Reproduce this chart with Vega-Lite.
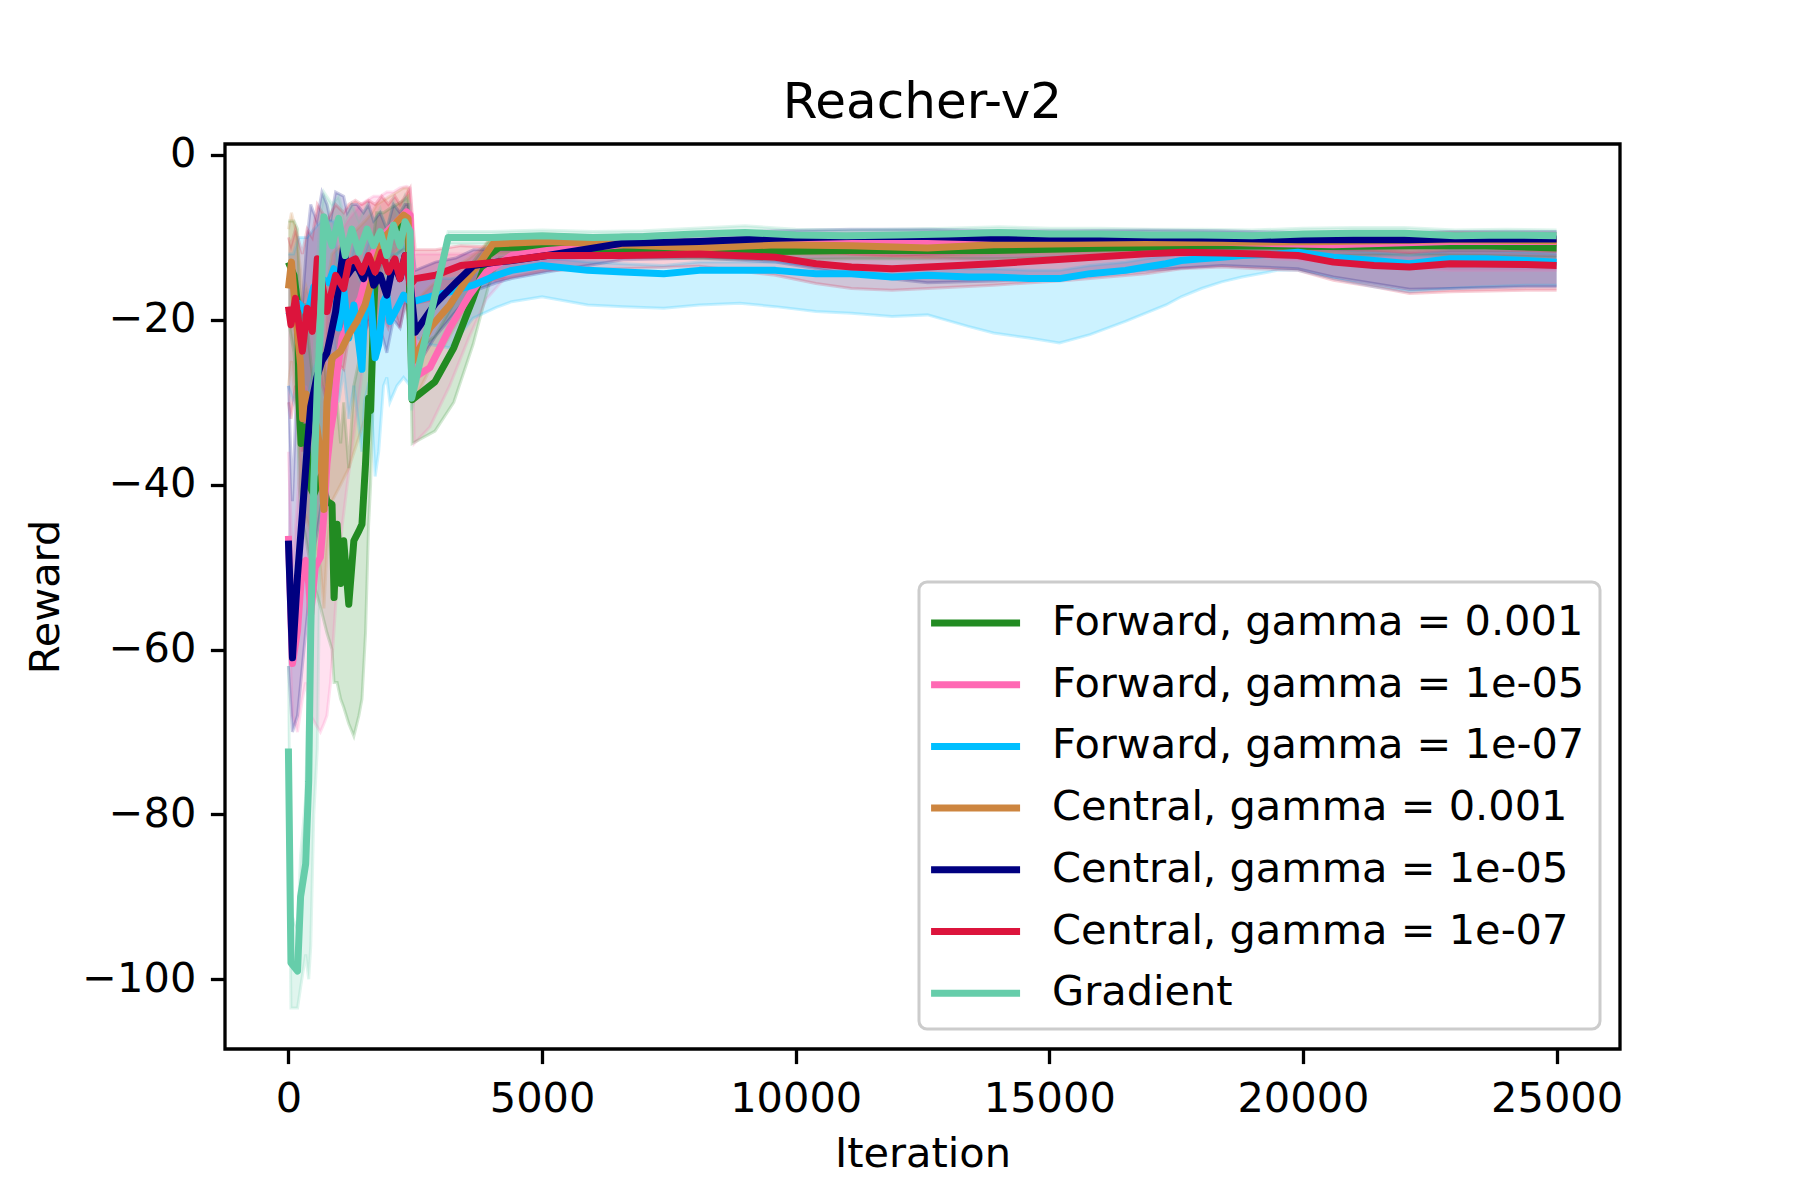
{
  "$schema": "https://vega.github.io/schema/vega-lite/v6.json",
  "autosize": {"type": "none"},
  "padding": {"left": 225, "top": 144, "right": 180, "bottom": 151},
  "width": 1395,
  "height": 905,
  "background": "white",
  "title": {"text": "Reacher-v2", "fontSize": 50, "font": "DejaVu Sans", "fontWeight": "normal", "color": "black", "offset": 6, "anchor": "middle"},
  "data": {
    "values": [
      {"s": "Forward, gamma = 0.001", "x": 0, "y": -13, "lo": -20, "hi": -8},
      {"s": "Forward, gamma = 0.001", "x": 110, "y": -14.6, "lo": -24, "hi": -8},
      {"s": "Forward, gamma = 0.001", "x": 180, "y": -18, "lo": -30, "hi": -9},
      {"s": "Forward, gamma = 0.001", "x": 210, "y": -30, "lo": -40, "hi": -15},
      {"s": "Forward, gamma = 0.001", "x": 250, "y": -35, "lo": -44, "hi": -20},
      {"s": "Forward, gamma = 0.001", "x": 330, "y": -33, "lo": -46, "hi": -18},
      {"s": "Forward, gamma = 0.001", "x": 440, "y": -40.4, "lo": -50, "hi": -25},
      {"s": "Forward, gamma = 0.001", "x": 500, "y": -41.2, "lo": -52, "hi": -28},
      {"s": "Forward, gamma = 0.001", "x": 640, "y": -39, "lo": -55, "hi": -22},
      {"s": "Forward, gamma = 0.001", "x": 760, "y": -42, "lo": -58, "hi": -28},
      {"s": "Forward, gamma = 0.001", "x": 860, "y": -42.4, "lo": -60, "hi": -25},
      {"s": "Forward, gamma = 0.001", "x": 900, "y": -53.7, "lo": -64, "hi": -32},
      {"s": "Forward, gamma = 0.001", "x": 960, "y": -44.8, "lo": -64, "hi": -30},
      {"s": "Forward, gamma = 0.001", "x": 1030, "y": -52, "lo": -66, "hi": -35},
      {"s": "Forward, gamma = 0.001", "x": 1090, "y": -46.8, "lo": -67, "hi": -30},
      {"s": "Forward, gamma = 0.001", "x": 1190, "y": -54.5, "lo": -69, "hi": -38},
      {"s": "Forward, gamma = 0.001", "x": 1290, "y": -46.8, "lo": -70.5, "hi": -28},
      {"s": "Forward, gamma = 0.001", "x": 1390, "y": -45.6, "lo": -68, "hi": -25},
      {"s": "Forward, gamma = 0.001", "x": 1450, "y": -44.8, "lo": -66, "hi": -22},
      {"s": "Forward, gamma = 0.001", "x": 1520, "y": -37.5, "lo": -58, "hi": -18},
      {"s": "Forward, gamma = 0.001", "x": 1580, "y": -29.5, "lo": -45, "hi": -14},
      {"s": "Forward, gamma = 0.001", "x": 1620, "y": -31, "lo": -40, "hi": -15},
      {"s": "Forward, gamma = 0.001", "x": 1680, "y": -19, "lo": -28, "hi": -10},
      {"s": "Forward, gamma = 0.001", "x": 1740, "y": -11, "lo": -16, "hi": -7},
      {"s": "Forward, gamma = 0.001", "x": 1875, "y": -9.7, "lo": -13, "hi": -7},
      {"s": "Forward, gamma = 0.001", "x": 2000, "y": -9.3, "lo": -12.5, "hi": -6.5},
      {"s": "Forward, gamma = 0.001", "x": 2140, "y": -8.9, "lo": -12, "hi": -6},
      {"s": "Forward, gamma = 0.001", "x": 2270, "y": -8.5, "lo": -11.5, "hi": -5.5},
      {"s": "Forward, gamma = 0.001", "x": 2360, "y": -8.7, "lo": -11.5, "hi": -5},
      {"s": "Forward, gamma = 0.001", "x": 2440, "y": -29.7, "lo": -35, "hi": -24},
      {"s": "Forward, gamma = 0.001", "x": 2890, "y": -27.5, "lo": -33.5, "hi": -22},
      {"s": "Forward, gamma = 0.001", "x": 3260, "y": -23.4, "lo": -30, "hi": -18},
      {"s": "Forward, gamma = 0.001", "x": 3640, "y": -17.4, "lo": -23, "hi": -13},
      {"s": "Forward, gamma = 0.001", "x": 3940, "y": -12.2, "lo": -16, "hi": -10.5},
      {"s": "Forward, gamma = 0.001", "x": 4160, "y": -11.2, "lo": -12.5, "hi": -10.2},
      {"s": "Forward, gamma = 0.001", "x": 5100, "y": -11.2, "lo": -12.2, "hi": -10.3},
      {"s": "Forward, gamma = 0.001", "x": 6600, "y": -11.4, "lo": -12.4, "hi": -10.5},
      {"s": "Forward, gamma = 0.001", "x": 8100, "y": -11.6, "lo": -12.6, "hi": -10.7},
      {"s": "Forward, gamma = 0.001", "x": 9600, "y": -11.7, "lo": -12.7, "hi": -10.8},
      {"s": "Forward, gamma = 0.001", "x": 11100, "y": -11.6, "lo": -12.6, "hi": -10.7},
      {"s": "Forward, gamma = 0.001", "x": 12600, "y": -11.6, "lo": -12.6, "hi": -10.7},
      {"s": "Forward, gamma = 0.001", "x": 13900, "y": -11.6, "lo": -12.6, "hi": -10.7},
      {"s": "Forward, gamma = 0.001", "x": 16100, "y": -11.3, "lo": -12.3, "hi": -10.4},
      {"s": "Forward, gamma = 0.001", "x": 18400, "y": -11, "lo": -12, "hi": -10.1},
      {"s": "Forward, gamma = 0.001", "x": 20600, "y": -11.1, "lo": -12.2, "hi": -10.2},
      {"s": "Forward, gamma = 0.001", "x": 22100, "y": -11, "lo": -12.1, "hi": -10.1},
      {"s": "Forward, gamma = 0.001", "x": 23600, "y": -11, "lo": -12.2, "hi": -10.1},
      {"s": "Forward, gamma = 0.001", "x": 25000, "y": -11.3, "lo": -12.4, "hi": -10.3},

      {"s": "Forward, gamma = 1e-05", "x": 0, "y": -46.2, "lo": -55, "hi": -36},
      {"s": "Forward, gamma = 1e-05", "x": 80, "y": -61.7, "lo": -68, "hi": -50},
      {"s": "Forward, gamma = 1e-05", "x": 180, "y": -57.7, "lo": -70, "hi": -42},
      {"s": "Forward, gamma = 1e-05", "x": 275, "y": -49.6, "lo": -66, "hi": -32},
      {"s": "Forward, gamma = 1e-05", "x": 340, "y": -49.2, "lo": -64, "hi": -28},
      {"s": "Forward, gamma = 1e-05", "x": 400, "y": -52, "lo": -66, "hi": -30},
      {"s": "Forward, gamma = 1e-05", "x": 440, "y": -55.7, "lo": -68, "hi": -35},
      {"s": "Forward, gamma = 1e-05", "x": 530, "y": -50, "lo": -69, "hi": -30},
      {"s": "Forward, gamma = 1e-05", "x": 630, "y": -48.8, "lo": -70, "hi": -28},
      {"s": "Forward, gamma = 1e-05", "x": 700, "y": -43.6, "lo": -69, "hi": -25},
      {"s": "Forward, gamma = 1e-05", "x": 760, "y": -37.5, "lo": -68, "hi": -20},
      {"s": "Forward, gamma = 1e-05", "x": 830, "y": -33.5, "lo": -64, "hi": -15},
      {"s": "Forward, gamma = 1e-05", "x": 895, "y": -31.1, "lo": -58, "hi": -12},
      {"s": "Forward, gamma = 1e-05", "x": 960, "y": -26.3, "lo": -52, "hi": -10},
      {"s": "Forward, gamma = 1e-05", "x": 1060, "y": -22.2, "lo": -45, "hi": -9},
      {"s": "Forward, gamma = 1e-05", "x": 1160, "y": -20.6, "lo": -40, "hi": -8},
      {"s": "Forward, gamma = 1e-05", "x": 1290, "y": -19, "lo": -34, "hi": -7},
      {"s": "Forward, gamma = 1e-05", "x": 1420, "y": -17.4, "lo": -28, "hi": -6},
      {"s": "Forward, gamma = 1e-05", "x": 1550, "y": -14.2, "lo": -22, "hi": -5.5},
      {"s": "Forward, gamma = 1e-05", "x": 1680, "y": -11.8, "lo": -17, "hi": -5},
      {"s": "Forward, gamma = 1e-05", "x": 1810, "y": -10.1, "lo": -14, "hi": -5},
      {"s": "Forward, gamma = 1e-05", "x": 1940, "y": -9.3, "lo": -13, "hi": -4.5},
      {"s": "Forward, gamma = 1e-05", "x": 2070, "y": -8.5, "lo": -12, "hi": -4.5},
      {"s": "Forward, gamma = 1e-05", "x": 2200, "y": -7.7, "lo": -11, "hi": -4},
      {"s": "Forward, gamma = 1e-05", "x": 2330, "y": -6.9, "lo": -10, "hi": -3.8},
      {"s": "Forward, gamma = 1e-05", "x": 2400, "y": -7.3, "lo": -10, "hi": -4},
      {"s": "Forward, gamma = 1e-05", "x": 2480, "y": -27, "lo": -35, "hi": -12},
      {"s": "Forward, gamma = 1e-05", "x": 2790, "y": -25.8, "lo": -33, "hi": -12},
      {"s": "Forward, gamma = 1e-05", "x": 3180, "y": -21, "lo": -28, "hi": -12},
      {"s": "Forward, gamma = 1e-05", "x": 3570, "y": -17, "lo": -22, "hi": -12},
      {"s": "Forward, gamma = 1e-05", "x": 3900, "y": -14.2, "lo": -17.5, "hi": -11.5},
      {"s": "Forward, gamma = 1e-05", "x": 4400, "y": -12.2, "lo": -14, "hi": -11},
      {"s": "Forward, gamma = 1e-05", "x": 5100, "y": -11.6, "lo": -13, "hi": -10.5},
      {"s": "Forward, gamma = 1e-05", "x": 6600, "y": -10.9, "lo": -12.2, "hi": -9.8},
      {"s": "Forward, gamma = 1e-05", "x": 8100, "y": -10.7, "lo": -12, "hi": -9.6},
      {"s": "Forward, gamma = 1e-05", "x": 9600, "y": -10.5, "lo": -11.8, "hi": -9.5},
      {"s": "Forward, gamma = 1e-05", "x": 11100, "y": -10.5, "lo": -12, "hi": -9.5},
      {"s": "Forward, gamma = 1e-05", "x": 12600, "y": -10.5, "lo": -12.5, "hi": -9.5},
      {"s": "Forward, gamma = 1e-05", "x": 13900, "y": -10.5, "lo": -13, "hi": -9.5},
      {"s": "Forward, gamma = 1e-05", "x": 16100, "y": -10.4, "lo": -12.5, "hi": -9.4},
      {"s": "Forward, gamma = 1e-05", "x": 18400, "y": -10.6, "lo": -12.2, "hi": -9.6},
      {"s": "Forward, gamma = 1e-05", "x": 20600, "y": -10.9, "lo": -13, "hi": -9.8},
      {"s": "Forward, gamma = 1e-05", "x": 22900, "y": -10.5, "lo": -14, "hi": -9.5},
      {"s": "Forward, gamma = 1e-05", "x": 25000, "y": -10.5, "lo": -14, "hi": -9.5},

      {"s": "Forward, gamma = 1e-07", "x": 0, "y": -19, "lo": -28, "hi": -12},
      {"s": "Forward, gamma = 1e-07", "x": 100, "y": -20, "lo": -30, "hi": -12},
      {"s": "Forward, gamma = 1e-07", "x": 200, "y": -18, "lo": -28, "hi": -10},
      {"s": "Forward, gamma = 1e-07", "x": 300, "y": -18.6, "lo": -30, "hi": -10},
      {"s": "Forward, gamma = 1e-07", "x": 370, "y": -19.4, "lo": -30, "hi": -10},
      {"s": "Forward, gamma = 1e-07", "x": 500, "y": -16, "lo": -26, "hi": -9},
      {"s": "Forward, gamma = 1e-07", "x": 650, "y": -15, "lo": -24, "hi": -8},
      {"s": "Forward, gamma = 1e-07", "x": 800, "y": -15.5, "lo": -25, "hi": -8},
      {"s": "Forward, gamma = 1e-07", "x": 895, "y": -13.8, "lo": -22, "hi": -8},
      {"s": "Forward, gamma = 1e-07", "x": 990, "y": -21, "lo": -30, "hi": -14},
      {"s": "Forward, gamma = 1e-07", "x": 1090, "y": -16.2, "lo": -26, "hi": -10},
      {"s": "Forward, gamma = 1e-07", "x": 1190, "y": -22.2, "lo": -32, "hi": -14},
      {"s": "Forward, gamma = 1e-07", "x": 1290, "y": -18.2, "lo": -28, "hi": -11},
      {"s": "Forward, gamma = 1e-07", "x": 1350, "y": -21, "lo": -31, "hi": -12},
      {"s": "Forward, gamma = 1e-07", "x": 1450, "y": -26, "lo": -36, "hi": -16},
      {"s": "Forward, gamma = 1e-07", "x": 1500, "y": -19, "lo": -30, "hi": -12},
      {"s": "Forward, gamma = 1e-07", "x": 1610, "y": -16.2, "lo": -27, "hi": -10},
      {"s": "Forward, gamma = 1e-07", "x": 1710, "y": -24.6, "lo": -39, "hi": -14},
      {"s": "Forward, gamma = 1e-07", "x": 1780, "y": -23, "lo": -36, "hi": -14},
      {"s": "Forward, gamma = 1e-07", "x": 1875, "y": -17.8, "lo": -28, "hi": -11},
      {"s": "Forward, gamma = 1e-07", "x": 1940, "y": -17, "lo": -27, "hi": -11},
      {"s": "Forward, gamma = 1e-07", "x": 2000, "y": -20.2, "lo": -30, "hi": -12},
      {"s": "Forward, gamma = 1e-07", "x": 2140, "y": -18.6, "lo": -28, "hi": -12},
      {"s": "Forward, gamma = 1e-07", "x": 2270, "y": -17, "lo": -27, "hi": -11},
      {"s": "Forward, gamma = 1e-07", "x": 2400, "y": -17.8, "lo": -28, "hi": -12},
      {"s": "Forward, gamma = 1e-07", "x": 2460, "y": -17.8, "lo": -22, "hi": -15},
      {"s": "Forward, gamma = 1e-07", "x": 2790, "y": -17.2, "lo": -23, "hi": -15},
      {"s": "Forward, gamma = 1e-07", "x": 3180, "y": -16.6, "lo": -23.4, "hi": -15},
      {"s": "Forward, gamma = 1e-07", "x": 3640, "y": -15.8, "lo": -19.8, "hi": -14.5},
      {"s": "Forward, gamma = 1e-07", "x": 4100, "y": -14.6, "lo": -18.5, "hi": -13.5},
      {"s": "Forward, gamma = 1e-07", "x": 4400, "y": -14, "lo": -17.8, "hi": -13},
      {"s": "Forward, gamma = 1e-07", "x": 5000, "y": -13.4, "lo": -17.2, "hi": -12.4},
      {"s": "Forward, gamma = 1e-07", "x": 5900, "y": -14, "lo": -18.2, "hi": -13},
      {"s": "Forward, gamma = 1e-07", "x": 6600, "y": -14.2, "lo": -18.4, "hi": -13.2},
      {"s": "Forward, gamma = 1e-07", "x": 7400, "y": -14.4, "lo": -18.6, "hi": -13.4},
      {"s": "Forward, gamma = 1e-07", "x": 8100, "y": -14, "lo": -18.2, "hi": -13},
      {"s": "Forward, gamma = 1e-07", "x": 8900, "y": -14, "lo": -18, "hi": -13},
      {"s": "Forward, gamma = 1e-07", "x": 9600, "y": -14, "lo": -18.4, "hi": -13},
      {"s": "Forward, gamma = 1e-07", "x": 10400, "y": -14.4, "lo": -19, "hi": -13.4},
      {"s": "Forward, gamma = 1e-07", "x": 11100, "y": -14.4, "lo": -19.2, "hi": -13.4},
      {"s": "Forward, gamma = 1e-07", "x": 11900, "y": -14.8, "lo": -19.6, "hi": -13.8},
      {"s": "Forward, gamma = 1e-07", "x": 12600, "y": -14.6, "lo": -19.4, "hi": -13.6},
      {"s": "Forward, gamma = 1e-07", "x": 13400, "y": -14.8, "lo": -20.8, "hi": -13.8},
      {"s": "Forward, gamma = 1e-07", "x": 13900, "y": -14.8, "lo": -21.6, "hi": -13.8},
      {"s": "Forward, gamma = 1e-07", "x": 14600, "y": -15, "lo": -22.2, "hi": -14},
      {"s": "Forward, gamma = 1e-07", "x": 15200, "y": -15, "lo": -22.8, "hi": -14},
      {"s": "Forward, gamma = 1e-07", "x": 15800, "y": -14.4, "lo": -21.8, "hi": -13.4},
      {"s": "Forward, gamma = 1e-07", "x": 16500, "y": -14, "lo": -20.2, "hi": -13},
      {"s": "Forward, gamma = 1e-07", "x": 16900, "y": -13.6, "lo": -19.2, "hi": -12.6},
      {"s": "Forward, gamma = 1e-07", "x": 17300, "y": -13.2, "lo": -18.2, "hi": -12.2},
      {"s": "Forward, gamma = 1e-07", "x": 17600, "y": -12.8, "lo": -17.2, "hi": -11.8},
      {"s": "Forward, gamma = 1e-07", "x": 18000, "y": -12.6, "lo": -16.2, "hi": -11.6},
      {"s": "Forward, gamma = 1e-07", "x": 18400, "y": -12.4, "lo": -15.4, "hi": -11.4},
      {"s": "Forward, gamma = 1e-07", "x": 18800, "y": -12.2, "lo": -14.8, "hi": -11.2},
      {"s": "Forward, gamma = 1e-07", "x": 19500, "y": -12, "lo": -14, "hi": -11},
      {"s": "Forward, gamma = 1e-07", "x": 19900, "y": -11.8, "lo": -14, "hi": -10.8},
      {"s": "Forward, gamma = 1e-07", "x": 20600, "y": -12.4, "lo": -15, "hi": -11.4},
      {"s": "Forward, gamma = 1e-07", "x": 21400, "y": -12.8, "lo": -16, "hi": -11.8},
      {"s": "Forward, gamma = 1e-07", "x": 22100, "y": -13.2, "lo": -16.6, "hi": -12.2},
      {"s": "Forward, gamma = 1e-07", "x": 22900, "y": -12.6, "lo": -16.2, "hi": -11.6},
      {"s": "Forward, gamma = 1e-07", "x": 23600, "y": -12.6, "lo": -16, "hi": -11.6},
      {"s": "Forward, gamma = 1e-07", "x": 24400, "y": -12.8, "lo": -15.8, "hi": -11.8},
      {"s": "Forward, gamma = 1e-07", "x": 25000, "y": -13, "lo": -15.8, "hi": -12},

      {"s": "Central, gamma = 0.001", "x": 0, "y": -16.2, "lo": -28, "hi": -9},
      {"s": "Central, gamma = 0.001", "x": 60, "y": -13, "lo": -25, "hi": -7},
      {"s": "Central, gamma = 0.001", "x": 140, "y": -19, "lo": -30, "hi": -9},
      {"s": "Central, gamma = 0.001", "x": 240, "y": -25.4, "lo": -38, "hi": -14},
      {"s": "Central, gamma = 0.001", "x": 280, "y": -32, "lo": -45, "hi": -18},
      {"s": "Central, gamma = 0.001", "x": 350, "y": -29, "lo": -44, "hi": -16},
      {"s": "Central, gamma = 0.001", "x": 450, "y": -31, "lo": -46, "hi": -18},
      {"s": "Central, gamma = 0.001", "x": 560, "y": -33, "lo": -48, "hi": -19},
      {"s": "Central, gamma = 0.001", "x": 630, "y": -36, "lo": -50, "hi": -22},
      {"s": "Central, gamma = 0.001", "x": 700, "y": -43, "lo": -55, "hi": -28},
      {"s": "Central, gamma = 0.001", "x": 760, "y": -30, "lo": -48, "hi": -16},
      {"s": "Central, gamma = 0.001", "x": 860, "y": -24.6, "lo": -42, "hi": -12},
      {"s": "Central, gamma = 0.001", "x": 1030, "y": -23.8, "lo": -40, "hi": -11},
      {"s": "Central, gamma = 0.001", "x": 1190, "y": -21.8, "lo": -38, "hi": -10},
      {"s": "Central, gamma = 0.001", "x": 1350, "y": -20.2, "lo": -35, "hi": -9},
      {"s": "Central, gamma = 0.001", "x": 1510, "y": -18.2, "lo": -32, "hi": -8},
      {"s": "Central, gamma = 0.001", "x": 1650, "y": -15, "lo": -26, "hi": -7},
      {"s": "Central, gamma = 0.001", "x": 1740, "y": -12.6, "lo": -20, "hi": -6},
      {"s": "Central, gamma = 0.001", "x": 1875, "y": -10.1, "lo": -15, "hi": -5.5},
      {"s": "Central, gamma = 0.001", "x": 2000, "y": -9.3, "lo": -13, "hi": -5},
      {"s": "Central, gamma = 0.001", "x": 2140, "y": -8.1, "lo": -11.5, "hi": -4.5},
      {"s": "Central, gamma = 0.001", "x": 2270, "y": -7.3, "lo": -10.5, "hi": -4},
      {"s": "Central, gamma = 0.001", "x": 2360, "y": -7.7, "lo": -10.5, "hi": -4},
      {"s": "Central, gamma = 0.001", "x": 2460, "y": -25, "lo": -30, "hi": -18},
      {"s": "Central, gamma = 0.001", "x": 2790, "y": -21, "lo": -26, "hi": -16},
      {"s": "Central, gamma = 0.001", "x": 3180, "y": -18.2, "lo": -22, "hi": -14},
      {"s": "Central, gamma = 0.001", "x": 3570, "y": -14.6, "lo": -18, "hi": -12.5},
      {"s": "Central, gamma = 0.001", "x": 3830, "y": -12.6, "lo": -15, "hi": -11.2},
      {"s": "Central, gamma = 0.001", "x": 4030, "y": -10.8, "lo": -12, "hi": -9.8},
      {"s": "Central, gamma = 0.001", "x": 5100, "y": -10.5, "lo": -11.7, "hi": -9.6},
      {"s": "Central, gamma = 0.001", "x": 6600, "y": -10.9, "lo": -12, "hi": -10},
      {"s": "Central, gamma = 0.001", "x": 8100, "y": -11.3, "lo": -12.4, "hi": -10.3},
      {"s": "Central, gamma = 0.001", "x": 9600, "y": -10.9, "lo": -12, "hi": -10},
      {"s": "Central, gamma = 0.001", "x": 11100, "y": -11, "lo": -12.1, "hi": -10},
      {"s": "Central, gamma = 0.001", "x": 12600, "y": -11.3, "lo": -12.4, "hi": -10.3},
      {"s": "Central, gamma = 0.001", "x": 13900, "y": -10.9, "lo": -12, "hi": -10},
      {"s": "Central, gamma = 0.001", "x": 16100, "y": -10.7, "lo": -11.8, "hi": -9.8},
      {"s": "Central, gamma = 0.001", "x": 18400, "y": -10.6, "lo": -11.8, "hi": -9.7},
      {"s": "Central, gamma = 0.001", "x": 20600, "y": -10.5, "lo": -11.7, "hi": -9.6},
      {"s": "Central, gamma = 0.001", "x": 22900, "y": -10.3, "lo": -11.5, "hi": -9.4},
      {"s": "Central, gamma = 0.001", "x": 25000, "y": -10.4, "lo": -11.6, "hi": -9.5},

      {"s": "Central, gamma = 1e-05", "x": 0, "y": -46.8, "lo": -62, "hi": -28},
      {"s": "Central, gamma = 1e-05", "x": 80, "y": -61, "lo": -70, "hi": -42},
      {"s": "Central, gamma = 1e-05", "x": 180, "y": -51, "lo": -68, "hi": -25},
      {"s": "Central, gamma = 1e-05", "x": 275, "y": -43.6, "lo": -62, "hi": -18},
      {"s": "Central, gamma = 1e-05", "x": 370, "y": -35.5, "lo": -56, "hi": -10},
      {"s": "Central, gamma = 1e-05", "x": 440, "y": -30.5, "lo": -50, "hi": -6},
      {"s": "Central, gamma = 1e-05", "x": 560, "y": -27, "lo": -46, "hi": -8},
      {"s": "Central, gamma = 1e-05", "x": 660, "y": -25, "lo": -42, "hi": -4.5},
      {"s": "Central, gamma = 1e-05", "x": 760, "y": -24, "lo": -38, "hi": -6},
      {"s": "Central, gamma = 1e-05", "x": 830, "y": -22, "lo": -35, "hi": -8},
      {"s": "Central, gamma = 1e-05", "x": 930, "y": -19, "lo": -30, "hi": -4.5},
      {"s": "Central, gamma = 1e-05", "x": 1090, "y": -11, "lo": -20, "hi": -5},
      {"s": "Central, gamma = 1e-05", "x": 1160, "y": -14.6, "lo": -22, "hi": -7},
      {"s": "Central, gamma = 1e-05", "x": 1250, "y": -13.8, "lo": -21, "hi": -6},
      {"s": "Central, gamma = 1e-05", "x": 1350, "y": -13.4, "lo": -20, "hi": -6},
      {"s": "Central, gamma = 1e-05", "x": 1480, "y": -15, "lo": -22, "hi": -7},
      {"s": "Central, gamma = 1e-05", "x": 1580, "y": -13, "lo": -20, "hi": -6},
      {"s": "Central, gamma = 1e-05", "x": 1680, "y": -15.8, "lo": -23, "hi": -8},
      {"s": "Central, gamma = 1e-05", "x": 1810, "y": -14.6, "lo": -21, "hi": -7},
      {"s": "Central, gamma = 1e-05", "x": 1940, "y": -17, "lo": -24, "hi": -9},
      {"s": "Central, gamma = 1e-05", "x": 2070, "y": -13, "lo": -20, "hi": -6},
      {"s": "Central, gamma = 1e-05", "x": 2200, "y": -15, "lo": -21, "hi": -7},
      {"s": "Central, gamma = 1e-05", "x": 2300, "y": -12.2, "lo": -18, "hi": -6},
      {"s": "Central, gamma = 1e-05", "x": 2360, "y": -13, "lo": -19, "hi": -6},
      {"s": "Central, gamma = 1e-05", "x": 2500, "y": -21.5, "lo": -26, "hi": -14},
      {"s": "Central, gamma = 1e-05", "x": 2900, "y": -18, "lo": -22, "hi": -13},
      {"s": "Central, gamma = 1e-05", "x": 3300, "y": -15.5, "lo": -19, "hi": -12.5},
      {"s": "Central, gamma = 1e-05", "x": 3650, "y": -13.4, "lo": -16.5, "hi": -11.5},
      {"s": "Central, gamma = 1e-05", "x": 4100, "y": -13, "lo": -15.5, "hi": -11.5},
      {"s": "Central, gamma = 1e-05", "x": 4400, "y": -12.8, "lo": -15, "hi": -11.5},
      {"s": "Central, gamma = 1e-05", "x": 5100, "y": -12.2, "lo": -14.2, "hi": -11},
      {"s": "Central, gamma = 1e-05", "x": 5900, "y": -11.4, "lo": -13.4, "hi": -10.3},
      {"s": "Central, gamma = 1e-05", "x": 6600, "y": -10.7, "lo": -12.7, "hi": -9.7},
      {"s": "Central, gamma = 1e-05", "x": 8100, "y": -10.5, "lo": -12.5, "hi": -9.5},
      {"s": "Central, gamma = 1e-05", "x": 9600, "y": -10.1, "lo": -13, "hi": -9.2},
      {"s": "Central, gamma = 1e-05", "x": 11100, "y": -9.9, "lo": -14.5, "hi": -9},
      {"s": "Central, gamma = 1e-05", "x": 12600, "y": -9.9, "lo": -15.5, "hi": -9},
      {"s": "Central, gamma = 1e-05", "x": 13900, "y": -10.1, "lo": -15.3, "hi": -9.2},
      {"s": "Central, gamma = 1e-05", "x": 15400, "y": -10.1, "lo": -14.8, "hi": -9.2},
      {"s": "Central, gamma = 1e-05", "x": 16900, "y": -10, "lo": -14, "hi": -9.1},
      {"s": "Central, gamma = 1e-05", "x": 18400, "y": -10.1, "lo": -13.4, "hi": -9.2},
      {"s": "Central, gamma = 1e-05", "x": 19900, "y": -10.3, "lo": -13.8, "hi": -9.4},
      {"s": "Central, gamma = 1e-05", "x": 20600, "y": -10.3, "lo": -14.8, "hi": -9.4},
      {"s": "Central, gamma = 1e-05", "x": 21400, "y": -10.3, "lo": -15.6, "hi": -9.4},
      {"s": "Central, gamma = 1e-05", "x": 22100, "y": -10.3, "lo": -16.3, "hi": -9.4},
      {"s": "Central, gamma = 1e-05", "x": 22900, "y": -10.2, "lo": -16.2, "hi": -9.3},
      {"s": "Central, gamma = 1e-05", "x": 24400, "y": -10.2, "lo": -16, "hi": -9.3},
      {"s": "Central, gamma = 1e-05", "x": 25000, "y": -10.2, "lo": -16, "hi": -9.3},

      {"s": "Central, gamma = 1e-07", "x": 0, "y": -18.4, "lo": -30, "hi": -10},
      {"s": "Central, gamma = 1e-07", "x": 50, "y": -20.6, "lo": -32, "hi": -11},
      {"s": "Central, gamma = 1e-07", "x": 140, "y": -17.4, "lo": -28, "hi": -9},
      {"s": "Central, gamma = 1e-07", "x": 275, "y": -23.8, "lo": -36, "hi": -12},
      {"s": "Central, gamma = 1e-07", "x": 370, "y": -18.6, "lo": -30, "hi": -9},
      {"s": "Central, gamma = 1e-07", "x": 470, "y": -21.4, "lo": -34, "hi": -10},
      {"s": "Central, gamma = 1e-07", "x": 570, "y": -12.6, "lo": -24, "hi": -6},
      {"s": "Central, gamma = 1e-07", "x": 670, "y": -15.8, "lo": -28, "hi": -7},
      {"s": "Central, gamma = 1e-07", "x": 760, "y": -19, "lo": -30, "hi": -8},
      {"s": "Central, gamma = 1e-07", "x": 930, "y": -14.6, "lo": -25, "hi": -6},
      {"s": "Central, gamma = 1e-07", "x": 1090, "y": -16.2, "lo": -26, "hi": -7},
      {"s": "Central, gamma = 1e-07", "x": 1190, "y": -13, "lo": -22, "hi": -6},
      {"s": "Central, gamma = 1e-07", "x": 1320, "y": -12.6, "lo": -21, "hi": -5.5},
      {"s": "Central, gamma = 1e-07", "x": 1450, "y": -14.2, "lo": -23, "hi": -6},
      {"s": "Central, gamma = 1e-07", "x": 1580, "y": -12.2, "lo": -20, "hi": -5.5},
      {"s": "Central, gamma = 1e-07", "x": 1710, "y": -14.2, "lo": -22, "hi": -6},
      {"s": "Central, gamma = 1e-07", "x": 1840, "y": -11.8, "lo": -19, "hi": -5},
      {"s": "Central, gamma = 1e-07", "x": 1970, "y": -14.2, "lo": -21, "hi": -6},
      {"s": "Central, gamma = 1e-07", "x": 2100, "y": -12.6, "lo": -19, "hi": -5},
      {"s": "Central, gamma = 1e-07", "x": 2200, "y": -15, "lo": -21, "hi": -6},
      {"s": "Central, gamma = 1e-07", "x": 2300, "y": -12.2, "lo": -18, "hi": -5},
      {"s": "Central, gamma = 1e-07", "x": 2400, "y": -15.8, "lo": -21, "hi": -4},
      {"s": "Central, gamma = 1e-07", "x": 2500, "y": -15, "lo": -18, "hi": -11.5},
      {"s": "Central, gamma = 1e-07", "x": 2900, "y": -14.6, "lo": -17.5, "hi": -11.5},
      {"s": "Central, gamma = 1e-07", "x": 3400, "y": -13.4, "lo": -16, "hi": -11},
      {"s": "Central, gamma = 1e-07", "x": 4100, "y": -13, "lo": -15.2, "hi": -11.2},
      {"s": "Central, gamma = 1e-07", "x": 5100, "y": -12.2, "lo": -14, "hi": -10.8},
      {"s": "Central, gamma = 1e-07", "x": 6600, "y": -12.2, "lo": -13.8, "hi": -10.8},
      {"s": "Central, gamma = 1e-07", "x": 8100, "y": -12, "lo": -13.5, "hi": -10.6},
      {"s": "Central, gamma = 1e-07", "x": 9600, "y": -12.4, "lo": -14.6, "hi": -11},
      {"s": "Central, gamma = 1e-07", "x": 10400, "y": -13.2, "lo": -15.6, "hi": -11.6},
      {"s": "Central, gamma = 1e-07", "x": 11100, "y": -13.6, "lo": -16.2, "hi": -12},
      {"s": "Central, gamma = 1e-07", "x": 11900, "y": -13.8, "lo": -16.4, "hi": -12.2},
      {"s": "Central, gamma = 1e-07", "x": 12600, "y": -13.6, "lo": -16.2, "hi": -12},
      {"s": "Central, gamma = 1e-07", "x": 13900, "y": -13.2, "lo": -15.8, "hi": -11.6},
      {"s": "Central, gamma = 1e-07", "x": 15400, "y": -12.6, "lo": -15.2, "hi": -11},
      {"s": "Central, gamma = 1e-07", "x": 16900, "y": -12, "lo": -14.4, "hi": -10.6},
      {"s": "Central, gamma = 1e-07", "x": 17600, "y": -11.8, "lo": -13.8, "hi": -10.5},
      {"s": "Central, gamma = 1e-07", "x": 18400, "y": -11.9, "lo": -13.6, "hi": -10.6},
      {"s": "Central, gamma = 1e-07", "x": 19100, "y": -12, "lo": -13.8, "hi": -10.6},
      {"s": "Central, gamma = 1e-07", "x": 19900, "y": -12.2, "lo": -14, "hi": -10.8},
      {"s": "Central, gamma = 1e-07", "x": 20600, "y": -13, "lo": -15.2, "hi": -11.4},
      {"s": "Central, gamma = 1e-07", "x": 21400, "y": -13.4, "lo": -16, "hi": -11.6},
      {"s": "Central, gamma = 1e-07", "x": 22100, "y": -13.6, "lo": -16.8, "hi": -11.8},
      {"s": "Central, gamma = 1e-07", "x": 22900, "y": -13.2, "lo": -16.6, "hi": -11.6},
      {"s": "Central, gamma = 1e-07", "x": 24400, "y": -13.3, "lo": -16.4, "hi": -11.6},
      {"s": "Central, gamma = 1e-07", "x": 25000, "y": -13.4, "lo": -16.4, "hi": -11.7},

      {"s": "Gradient", "x": 0, "y": -72, "lo": -74, "hi": -62},
      {"s": "Gradient", "x": 50, "y": -98, "lo": -103.5, "hi": -92},
      {"s": "Gradient", "x": 180, "y": -99, "lo": -103.5, "hi": -94},
      {"s": "Gradient", "x": 240, "y": -90, "lo": -101, "hi": -85},
      {"s": "Gradient", "x": 340, "y": -86, "lo": -97, "hi": -78},
      {"s": "Gradient", "x": 400, "y": -76, "lo": -100, "hi": -62},
      {"s": "Gradient", "x": 440, "y": -58, "lo": -96, "hi": -40},
      {"s": "Gradient", "x": 500, "y": -40, "lo": -80, "hi": -25},
      {"s": "Gradient", "x": 570, "y": -28, "lo": -72, "hi": -14},
      {"s": "Gradient", "x": 620, "y": -22, "lo": -50, "hi": -8},
      {"s": "Gradient", "x": 700, "y": -7.5, "lo": -16, "hi": -4.5},
      {"s": "Gradient", "x": 860, "y": -11, "lo": -16, "hi": -6},
      {"s": "Gradient", "x": 990, "y": -7.7, "lo": -12, "hi": -5},
      {"s": "Gradient", "x": 1120, "y": -12.2, "lo": -16, "hi": -8},
      {"s": "Gradient", "x": 1250, "y": -9, "lo": -13, "hi": -6},
      {"s": "Gradient", "x": 1390, "y": -11.8, "lo": -15, "hi": -8},
      {"s": "Gradient", "x": 1550, "y": -9, "lo": -12, "hi": -6},
      {"s": "Gradient", "x": 1680, "y": -11, "lo": -14, "hi": -8},
      {"s": "Gradient", "x": 1810, "y": -9.3, "lo": -12, "hi": -6.5},
      {"s": "Gradient", "x": 1940, "y": -12.2, "lo": -15, "hi": -9},
      {"s": "Gradient", "x": 2070, "y": -8.5, "lo": -11, "hi": -5.5},
      {"s": "Gradient", "x": 2200, "y": -11, "lo": -14, "hi": -8},
      {"s": "Gradient", "x": 2300, "y": -8.1, "lo": -11, "hi": -5},
      {"s": "Gradient", "x": 2400, "y": -9.3, "lo": -12, "hi": -6},
      {"s": "Gradient", "x": 2430, "y": -29.5, "lo": -31, "hi": -28},
      {"s": "Gradient", "x": 3150, "y": -10, "lo": -10.8, "hi": -9.3},
      {"s": "Gradient", "x": 4000, "y": -10, "lo": -10.8, "hi": -9.3},
      {"s": "Gradient", "x": 5000, "y": -9.8, "lo": -10.6, "hi": -9.1},
      {"s": "Gradient", "x": 6000, "y": -10, "lo": -10.8, "hi": -9.3},
      {"s": "Gradient", "x": 7000, "y": -9.9, "lo": -10.7, "hi": -9.2},
      {"s": "Gradient", "x": 8000, "y": -9.6, "lo": -10.4, "hi": -8.9},
      {"s": "Gradient", "x": 9000, "y": -9.4, "lo": -10.2, "hi": -8.6},
      {"s": "Gradient", "x": 10000, "y": -9.7, "lo": -10.5, "hi": -9},
      {"s": "Gradient", "x": 11000, "y": -9.8, "lo": -10.6, "hi": -9.1},
      {"s": "Gradient", "x": 12000, "y": -9.7, "lo": -10.5, "hi": -9},
      {"s": "Gradient", "x": 13000, "y": -9.6, "lo": -10.4, "hi": -8.9},
      {"s": "Gradient", "x": 14000, "y": -9.4, "lo": -10.2, "hi": -8.7},
      {"s": "Gradient", "x": 15000, "y": -9.6, "lo": -10.4, "hi": -8.9},
      {"s": "Gradient", "x": 16000, "y": -9.6, "lo": -10.4, "hi": -8.9},
      {"s": "Gradient", "x": 17000, "y": -9.7, "lo": -10.5, "hi": -9},
      {"s": "Gradient", "x": 18000, "y": -9.7, "lo": -10.5, "hi": -9},
      {"s": "Gradient", "x": 19000, "y": -9.8, "lo": -10.6, "hi": -9.1},
      {"s": "Gradient", "x": 20000, "y": -9.6, "lo": -10.4, "hi": -8.9},
      {"s": "Gradient", "x": 21000, "y": -9.5, "lo": -10.3, "hi": -8.8},
      {"s": "Gradient", "x": 22000, "y": -9.5, "lo": -10.3, "hi": -8.8},
      {"s": "Gradient", "x": 23000, "y": -9.8, "lo": -10.6, "hi": -9.1},
      {"s": "Gradient", "x": 24000, "y": -9.7, "lo": -10.5, "hi": -9},
      {"s": "Gradient", "x": 25000, "y": -9.8, "lo": -10.6, "hi": -9.1}
    ]
  },
  "encoding": {
    "x": {
      "field": "x", "type": "quantitative",
      "scale": {"domain": [-1250, 26250], "nice": false, "zero": false},
      "axis": {"title": "Iteration", "values": [0, 5000, 10000, 15000, 20000, 25000], "format": "d"}
    },
    "color": {
      "field": "s", "type": "nominal",
      "scale": {
        "domain": ["Forward, gamma = 0.001", "Forward, gamma = 1e-05", "Forward, gamma = 1e-07", "Central, gamma = 0.001", "Central, gamma = 1e-05", "Central, gamma = 1e-07", "Gradient"],
        "range": ["#228B22", "#FF69B4", "#00BFFF", "#CD853F", "#000080", "#DC143C", "#66CDAA"]
      },
      "legend": {"title": null}
    }
  },
  "layer": [
    {
      "mark": {"type": "area", "opacity": 0.2, "clip": true},
      "encoding": {
        "y": {"field": "lo", "type": "quantitative", "scale": {"domain": [-108.46, 1.33], "nice": false, "zero": false}, "axis": {"title": "Reward", "values": [0, -20, -40, -60, -80, -100]}},
        "y2": {"field": "hi"}
      }
    },
    {
      "mark": {"type": "line", "opacity": 0.2, "strokeWidth": 3, "clip": true},
      "encoding": {"y": {"field": "lo", "type": "quantitative"}}
    },
    {
      "mark": {"type": "line", "opacity": 0.2, "strokeWidth": 3, "clip": true},
      "encoding": {"y": {"field": "hi", "type": "quantitative"}}
    },
    {
      "mark": {"type": "line", "strokeWidth": 7, "strokeJoin": "round", "clip": true},
      "encoding": {"y": {"field": "y", "type": "quantitative"}}
    }
  ],
  "config": {
    "font": "DejaVu Sans",
    "view": {"stroke": "black", "strokeWidth": 3.3},
    "axis": {
      "domain": false, "grid": false,
      "tickColor": "black", "tickSize": 14.6, "tickWidth": 3.3,
      "labelColor": "black", "labelFontSize": 41.5, "labelPadding": 14.6, "labelFont": "DejaVu Sans",
      "titleColor": "black", "titleFontSize": 41.5, "titleFontWeight": "normal", "titleFont": "DejaVu Sans", "titlePadding": 14
    },
    "legend": {
      "orient": "bottom-right", "offset": 20, "padding": 15, "rowPadding": 14.7,
      "labelFontSize": 41.5, "labelFont": "DejaVu Sans", "labelColor": "black", "labelLimit": 0, "labelOffset": 66,
      "symbolType": "M-1.3,0H2.7", "symbolSize": 1980, "symbolStrokeWidth": 7, "symbolOpacity": 1, "symbolFillColor": "transparent",
      "strokeColor": "#cccccc", "strokeWidth": 3, "cornerRadius": 8, "fillColor": "rgba(255,255,255,0.8)"
    }
  }
}
